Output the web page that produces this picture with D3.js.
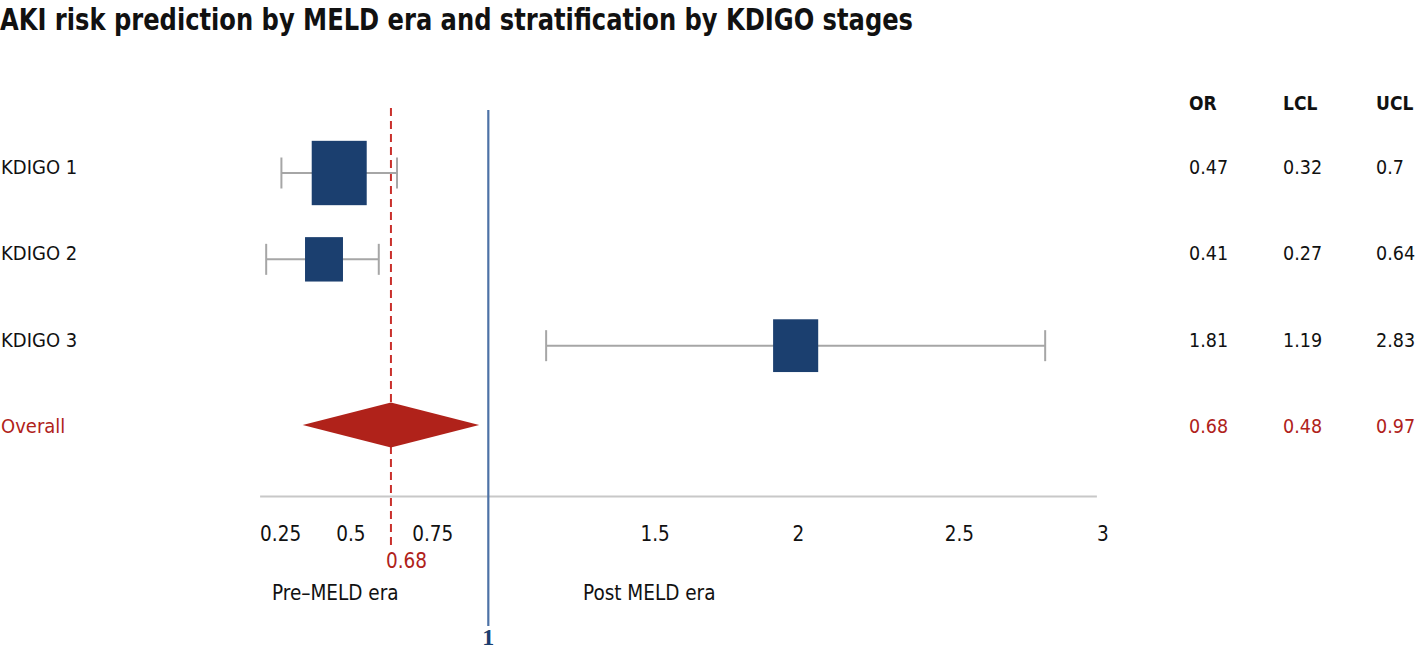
<!DOCTYPE html>
<html>
<head>
<meta charset="utf-8">
<script src="https://cdn.jsdelivr.net/npm/d3@7"></script>
<style>
  html, body { margin: 0; padding: 0; background: #ffffff; }
  svg { display: block; }
  text { font-family: "Liberation Sans Narrow", "DejaVu Sans Condensed", "Noto Sans", sans-serif; }
</style>
</head>
<body>
<svg id="chart" width="1415" height="652"></svg>
<script>
// ---------- data ----------
const title = "AKI risk prediction by MELD era and stratification by KDIGO stages";
const categories = ["KDIGO 1", "KDIGO 2", "KDIGO 3"];
const orValues = [0.47, 0.41, 1.81];
const lclValues = [0.32, 0.27, 1.19];
const uclValues = [0.7, 0.64, 2.83];
const boxPositions = [0.51, 0.46, 2.01];   // centres of the squares as drawn
const boxWeights = [100, 69, 82];          // relative square sizes
const overallLabel = "Overall";
const overallValues = [0.68, 0.48, 0.97];  // OR, LCL, UCL
const diamondSpan = [0.39, 0.68, 0.97];    // left, centre, right of the diamond as drawn
const tickValues = [0.25, 0.5, 0.75, 1.5, 2, 2.5, 3];
const tickLabels = ["0.25", "0.5", "0.75", "1.5", "2", "2.5", "3"];
const tableHeaders = ["OR", "LCL", "UCL"];
const nullValue = 1;
const eraLabels = ["Pre–MELD era", "Post MELD era"];

// ---------- setup ----------
const svg = d3.select("#chart");
const navy = "#1b3f6f", red = "#b0221a", grey = "#a6a6a6", blue = "#4d72a6";

const x = d3.scaleLinear().domain([0.25, 3]).range([260.1, 1096.9]);
const rows = categories.concat([overallLabel]);
const y = d3.scalePoint().domain(rows).range([166, 425]);
const whiskerOffset = 7;
const sizeScale = d3.scaleLinear().domain([0, 100]).range([0, 55]);

// title
svg.append("text")
  .attr("x", 0).attr("y", 30)
  .attr("font-size", 31).attr("font-weight", "bold").attr("fill", "#111")
  .attr("textLength", 913).attr("lengthAdjust", "spacingAndGlyphs")
  .text(title);

// axis line
svg.append("line")
  .attr("x1", x(0.25)).attr("x2", x(3))
  .attr("y1", 496.5).attr("y2", 496.5)
  .attr("stroke", "#c8c8c8").attr("stroke-width", 2);

// tick labels
svg.append("g").selectAll("text").data(tickValues).join("text")
  .attr("x", d => x(d)).attr("y", 541)
  .attr("font-size", 20.5).attr("fill", "#111")
  .text((d, i) => tickLabels[i]);

// null line at 1
svg.append("line")
  .attr("x1", x(nullValue)).attr("x2", x(nullValue))
  .attr("y1", 110).attr("y2", 626)
  .attr("stroke", blue).attr("stroke-width", 2.2);
svg.append("text")
  .attr("x", x(nullValue)).attr("y", 645)
  .attr("text-anchor", "middle")
  .attr("font-size", 24).attr("font-weight", "bold").attr("fill", "#1b3f6f")
  .style("font-family", "'Liberation Serif', 'DejaVu Serif', serif")
  .text(nullValue);

// overall dashed line
svg.append("line")
  .attr("x1", x(overallValues[0])).attr("x2", x(overallValues[0]))
  .attr("y1", 108).attr("y2", 546)
  .attr("stroke", "#c9302c").attr("stroke-width", 2)
  .attr("stroke-dasharray", "8,5");
svg.append("text")
  .attr("x", x(overallValues[0]) - 5).attr("y", 568)
  .attr("font-size", 20.5).attr("fill", red)
  .text(overallValues[0]);

// era labels
svg.append("text").attr("x", 272).attr("y", 600)
  .attr("font-size", 20.5).attr("fill", "#111").text(eraLabels[0]);
svg.append("text").attr("x", 583).attr("y", 600)
  .attr("font-size", 20.5).attr("fill", "#111").text(eraLabels[1]);

// study rows
const study = categories.map((c, i) => ({
  c, or: orValues[i], lcl: lclValues[i], ucl: uclValues[i], pos: boxPositions[i], w: boxWeights[i]
}));
const g = svg.append("g");
study.forEach(d => {
  const cy = y(d.c) + whiskerOffset;
  g.append("line").attr("x1", x(d.lcl)).attr("x2", x(d.ucl))
    .attr("y1", cy).attr("y2", cy).attr("stroke", grey).attr("stroke-width", 2);
  [d.lcl, d.ucl].forEach(v => {
    g.append("line").attr("x1", x(v)).attr("x2", x(v))
      .attr("y1", cy - 15.5).attr("y2", cy + 15.5)
      .attr("stroke", grey).attr("stroke-width", 2);
  });
  const bw = sizeScale(d.w), bh = bw * 1.17;
  g.append("rect")
    .attr("x", x(d.pos) - bw / 2).attr("y", cy - bh / 2)
    .attr("width", bw).attr("height", bh)
    .attr("fill", navy);
});

// diamond
const dy = y(overallLabel);
svg.append("path")
  .attr("d", `M${x(diamondSpan[0])},${dy} L${x(diamondSpan[1])},${dy - 22.5} L${x(diamondSpan[2])},${dy} L${x(diamondSpan[1])},${dy + 22.5} Z`)
  .attr("fill", red);

// row labels
svg.append("g").selectAll("text").data(rows).join("text")
  .attr("x", 1).attr("y", d => y(d) + 8)
  .attr("font-size", 20)
  .attr("fill", d => d === overallLabel ? red : "#111")
  .text(d => d);

// table
const colX = [1189, 1283, 1376];
svg.append("g").selectAll("text").data(tableHeaders).join("text")
  .attr("x", (d, i) => colX[i]).attr("y", 110)
  .attr("font-size", 19).attr("font-weight", "bold").attr("fill", "#111")
  .text(d => d);
const tableRows = study.map(d => [d.or, d.lcl, d.ucl]).concat([overallValues]);
tableRows.forEach((r, ri) => {
  r.forEach((v, ci) => {
    svg.append("text")
      .attr("x", colX[ci]).attr("y", y(rows[ri]) + 8)
      .attr("font-size", 19.5)
      .attr("fill", ri === tableRows.length - 1 ? red : "#111")
      .text(v);
  });
});
</script>
</body>
</html>
